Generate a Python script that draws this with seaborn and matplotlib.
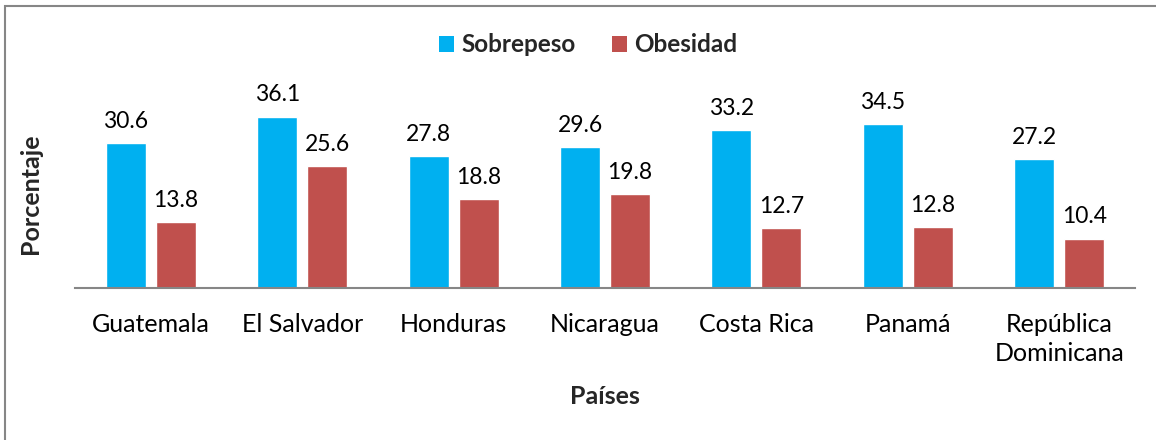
import matplotlib
matplotlib.use("Agg")
import matplotlib.pyplot as plt
import seaborn as sns
import pandas as pd
from matplotlib.patches import Rectangle, Patch

paises = ["Guatemala", "El Salvador", "Honduras", "Nicaragua", "Costa Rica", "Panamá", "República\nDominicana"]
sobrepeso = [30.6, 36.1, 27.8, 29.6, 33.2, 34.5, 27.2]
obesidad = [13.8, 25.6, 18.8, 19.8, 12.7, 12.8, 10.4]
series = ["Sobrepeso", "Obesidad"]
colores = ["#00B0F0", "#C0504D"]

df = pd.DataFrame({
    "Países": paises * 2,
    "Valor": sobrepeso + obesidad,
    "Serie": [series[0]] * len(paises) + [series[1]] * len(paises),
})

sns.set_theme(style="white")
plt.rcParams["font.family"] = ["Lato", "DejaVu Sans"]

fig = plt.figure(figsize=(11.56, 4.40), dpi=100)
ax = fig.add_axes([75 / 1156, 1 - 288 / 440, 1060 / 1156, 190 / 440])

sns.barplot(data=df, x="Países", y="Valor", hue="Serie", palette=colores,
            width=0.66, gap=0.2, ax=ax, legend=False, saturation=1)

for cont in ax.containers:
    ax.bar_label(cont, fmt="%.1f", padding=8, fontsize=16.5, color="#000000")

ax.set_ylim(0, 40)
ax.set_xlim(-0.5, len(paises) - 0.5)
ax.set_yticks([])
for s in ["top", "right", "left"]:
    ax.spines[s].set_visible(False)
ax.spines["bottom"].set_color("#868686")
ax.spines["bottom"].set_linewidth(1.5)
ax.tick_params(axis="x", length=0, labelsize=18, pad=18, colors="#000000")
for lbl in ax.get_xticklabels():
    lbl.set_linespacing(1.3)

ax.set_xlabel("")
ax.set_ylabel("")
fig.text(605 / 1156, 1 - 396 / 440, "Países", ha="center", va="center",
         fontsize=18, fontweight="bold")
fig.text(31 / 1156, 1 - 194 / 440, "Porcentaje", ha="center", va="center",
         rotation=90, fontsize=18, fontweight="bold")

handles = [Patch(facecolor=c, edgecolor="none") for c in colores]
fig.legend(handles, series, loc="center", bbox_to_anchor=(588 / 1156, 1 - 45 / 440),
           ncol=2, frameon=False, prop={"weight": "bold", "size": 17.5},
           handlelength=0.62, handleheight=0.62, handletextpad=0.3, columnspacing=1.5)

fig.patches.append(Rectangle((4.5 / 1156, -0.1), 1.2, (1 - 6.5 / 440) + 0.1,
                             transform=fig.transFigure, fill=False,
                             edgecolor="#868686", linewidth=1.5))

fig.savefig("out.png", dpi=100)
